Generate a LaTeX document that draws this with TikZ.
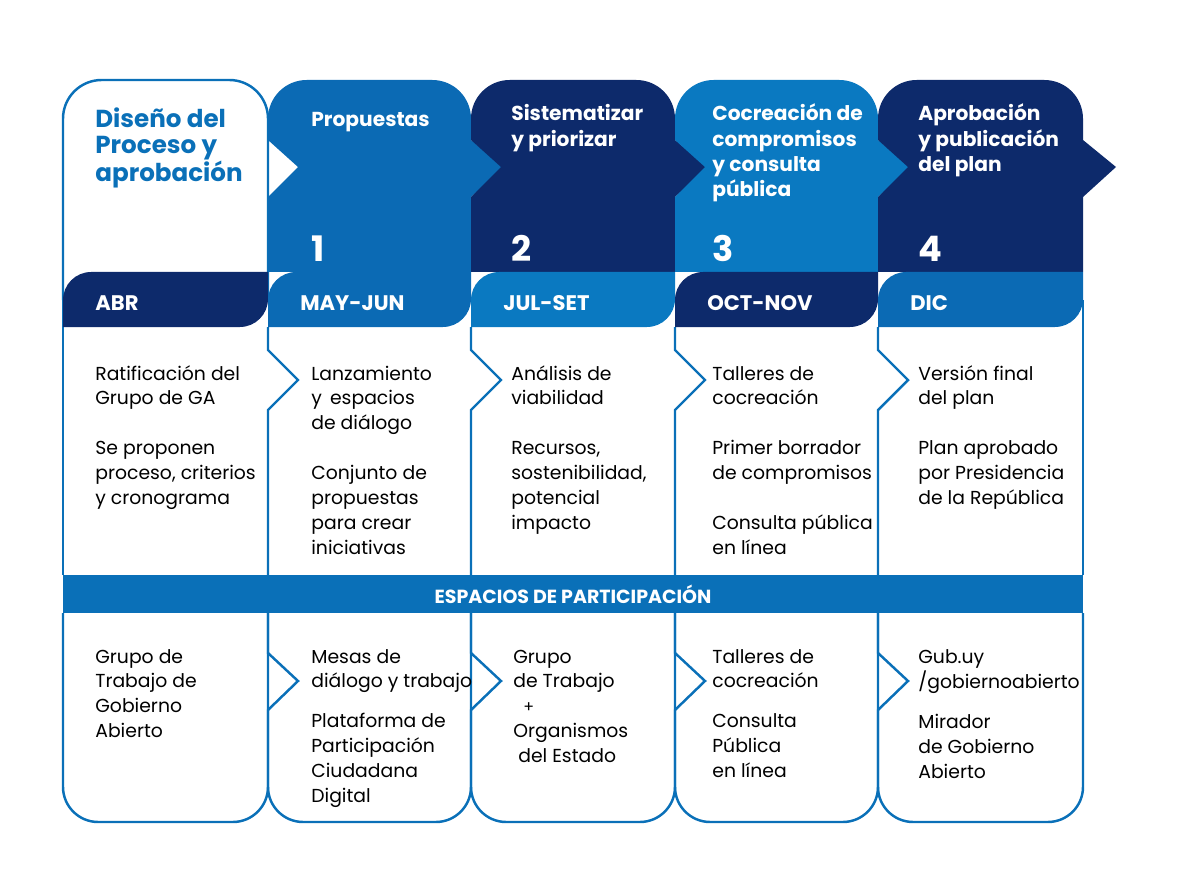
\documentclass[tikz,border=0pt]{standalone}
\usepackage{fontspec}
\setmainfont{Poppins}
\definecolor{navy}{HTML}{0D2A6B}
\definecolor{midblue}{HTML}{0B6AB4}
\definecolor{lightblue}{HTML}{0A79C1}
\definecolor{lineblue}{HTML}{0A70B8}
\newcommand{\toplines}[1]{\begin{tabular}[t]{@{}l@{}}#1\end{tabular}}
\tikzset{
  cell/.style={draw=lineblue,line width=1.4pt},
  headtxt/.style={anchor=base west,inner sep=0,text=white,font=\bfseries\fontsize{11.5}{14.4}\selectfont},
  numtxt/.style={anchor=base west,inner sep=0,text=white,font=\bfseries\fontsize{20}{24}\selectfont},
  bodytxt/.style={anchor=base west,inner sep=0,font=\fontsize{10.7}{14.2}\selectfont}
}
\begin{document}
\begin{tikzpicture}[x=0.02cm,y=-0.02cm]
\useasboundingbox (0,0) rectangle (1190,885);
% first column outline
\draw[cell,rounded corners=22] (63,300) -- (63,80) -- (268,80) -- (268,300);
\node[anchor=base west,inner sep=0,text=lineblue,font=\bfseries\fontsize{14}{14.6}\selectfont] (h0) at (95,128) {\toplines{Diseño del\\Proceso y\\aprobación}};
% arrow headers
\foreach \xa/\xb/\col in {268/471/midblue,471/675/navy,675/878/lightblue,878/1083/navy}
  \fill[\col] (\xa,272) -- (\xa,197) -- (\xa+30,167) -- (\xa,140) [rounded corners=22] -- (\xa,80) -- (\xb,80) [sharp corners] -- (\xb,140) -- (\xb+33,167) -- (\xb,197) -- (\xb,272) -- cycle;
\node[headtxt] (h1) at (311,127) {\toplines{Propuestas}};
\node[headtxt] (h2) at (511,121) {\toplines{Sistematizar\\y priorizar}};
\node[headtxt] (h3) at (712,121) {\toplines{Cocreación de\\compromisos\\y consulta\\pública}};
\node[headtxt] (h4) at (918,121) {\toplines{Aprobación\\y publicación\\del plan}};
\foreach \x/\n in {311/1,511/2,712/3,918/4}
  \node[numtxt] (n\n) at (\x,261) {\n};
% body outlines
\draw[cell] (63,300) -- (63,575);
\draw[cell] (1083,300) -- (1083,575);
\foreach \xa in {268,471,675,878}
  \draw[cell] (\xa,327) -- (\xa,350) -- (\xa+30,380) -- (\xa,410) -- (\xa,575);
% lower cells
\draw[cell] (63,613) [rounded corners=20] -- (63,822) -- (268,822) [sharp corners] -- (268,613);
\foreach \xa/\xb in {268/471,471/675,675/878,878/1083}
  \draw[cell] (\xa,613) -- (\xa,653) -- (\xa+30,681) -- (\xa,710) [rounded corners=20] -- (\xa,822) -- (\xb,822) [sharp corners] -- (\xb,613);
% month band
\foreach \xa/\xb/\col/\m [count=\i from 0] in {63/268/navy/ABR,268/471/midblue/MAY-JUN,471/675/lightblue/JUL-SET,675/878/navy/OCT-NOV,878/1083/midblue/DIC}{
  \fill[\col] (\xa,327) [rounded corners=16] -- (\xa,272) [sharp corners] -- (\xb,272) -- (\xb,300) [rounded corners=16] -- (\xb,327) [sharp corners] -- cycle;
  \node[headtxt,font=\bfseries\fontsize{12}{14}\selectfont] (m\i) at (\xa+32,311) {\m};
}
% participation band
\fill[lineblue] (63,575) rectangle (1083,613);
\node[text=white,font=\bfseries\fontsize{10.8}{12}\selectfont] (esp) at (573,594) {ESPACIOS DE PARTICIPACIÓN};
% body texts
\node[bodytxt] (b0) at (95,380) {\toplines{Ratificación del\\Grupo de GA\\[0.5cm]Se proponen\\proceso, criterios\\y cronograma}};
\node[bodytxt] (b1) at (311,380) {\toplines{Lanzamiento\\y\, espacios\\de diálogo\\[0.5cm]Conjunto de\\propuestas\\para crear\\iniciativas}};
\node[bodytxt] (b2) at (511,380) {\toplines{Análisis de\\viabilidad\\[0.5cm]Recursos,\\sostenibilidad,\\potencial\\impacto}};
\node[bodytxt] (b3) at (712,380) {\toplines{Talleres de\\cocreación\\[0.5cm]Primer borrador\\de compromisos\\[0.5cm]Consulta pública\\en línea}};
\node[bodytxt] (b4) at (918,380) {\toplines{Versión final\\del plan\\[0.5cm]Plan aprobado\\por Presidencia\\de la República}};
% lower texts
\node[bodytxt] (l0) at (95,663) {\toplines{Grupo de\\Trabajo de\\Gobierno\\Abierto}};
\node[bodytxt] (l1) at (311,663) {\toplines{Mesas de\\diálogo y trabajo\\[0.3cm]Plataforma de\\Participación\\Ciudadana\\Digital}};
\node[bodytxt] (l2) at (513,663) {\toplines{Grupo\\de Trabajo\\\hspace*{0.2cm}{\small +}\\Organismos\\\hspace*{0.1cm}del Estado}};
\node[bodytxt] (l3) at (712,663) {\toplines{Talleres de\\cocreación\\[0.3cm]Consulta\\Pública\\en línea}};
\node[bodytxt] (l4) at (918,663) {\toplines{Gub.uy\\/gobiernoabierto\\[0.3cm]Mirador\\de Gobierno\\Abierto}};
\end{tikzpicture}
\end{document}
